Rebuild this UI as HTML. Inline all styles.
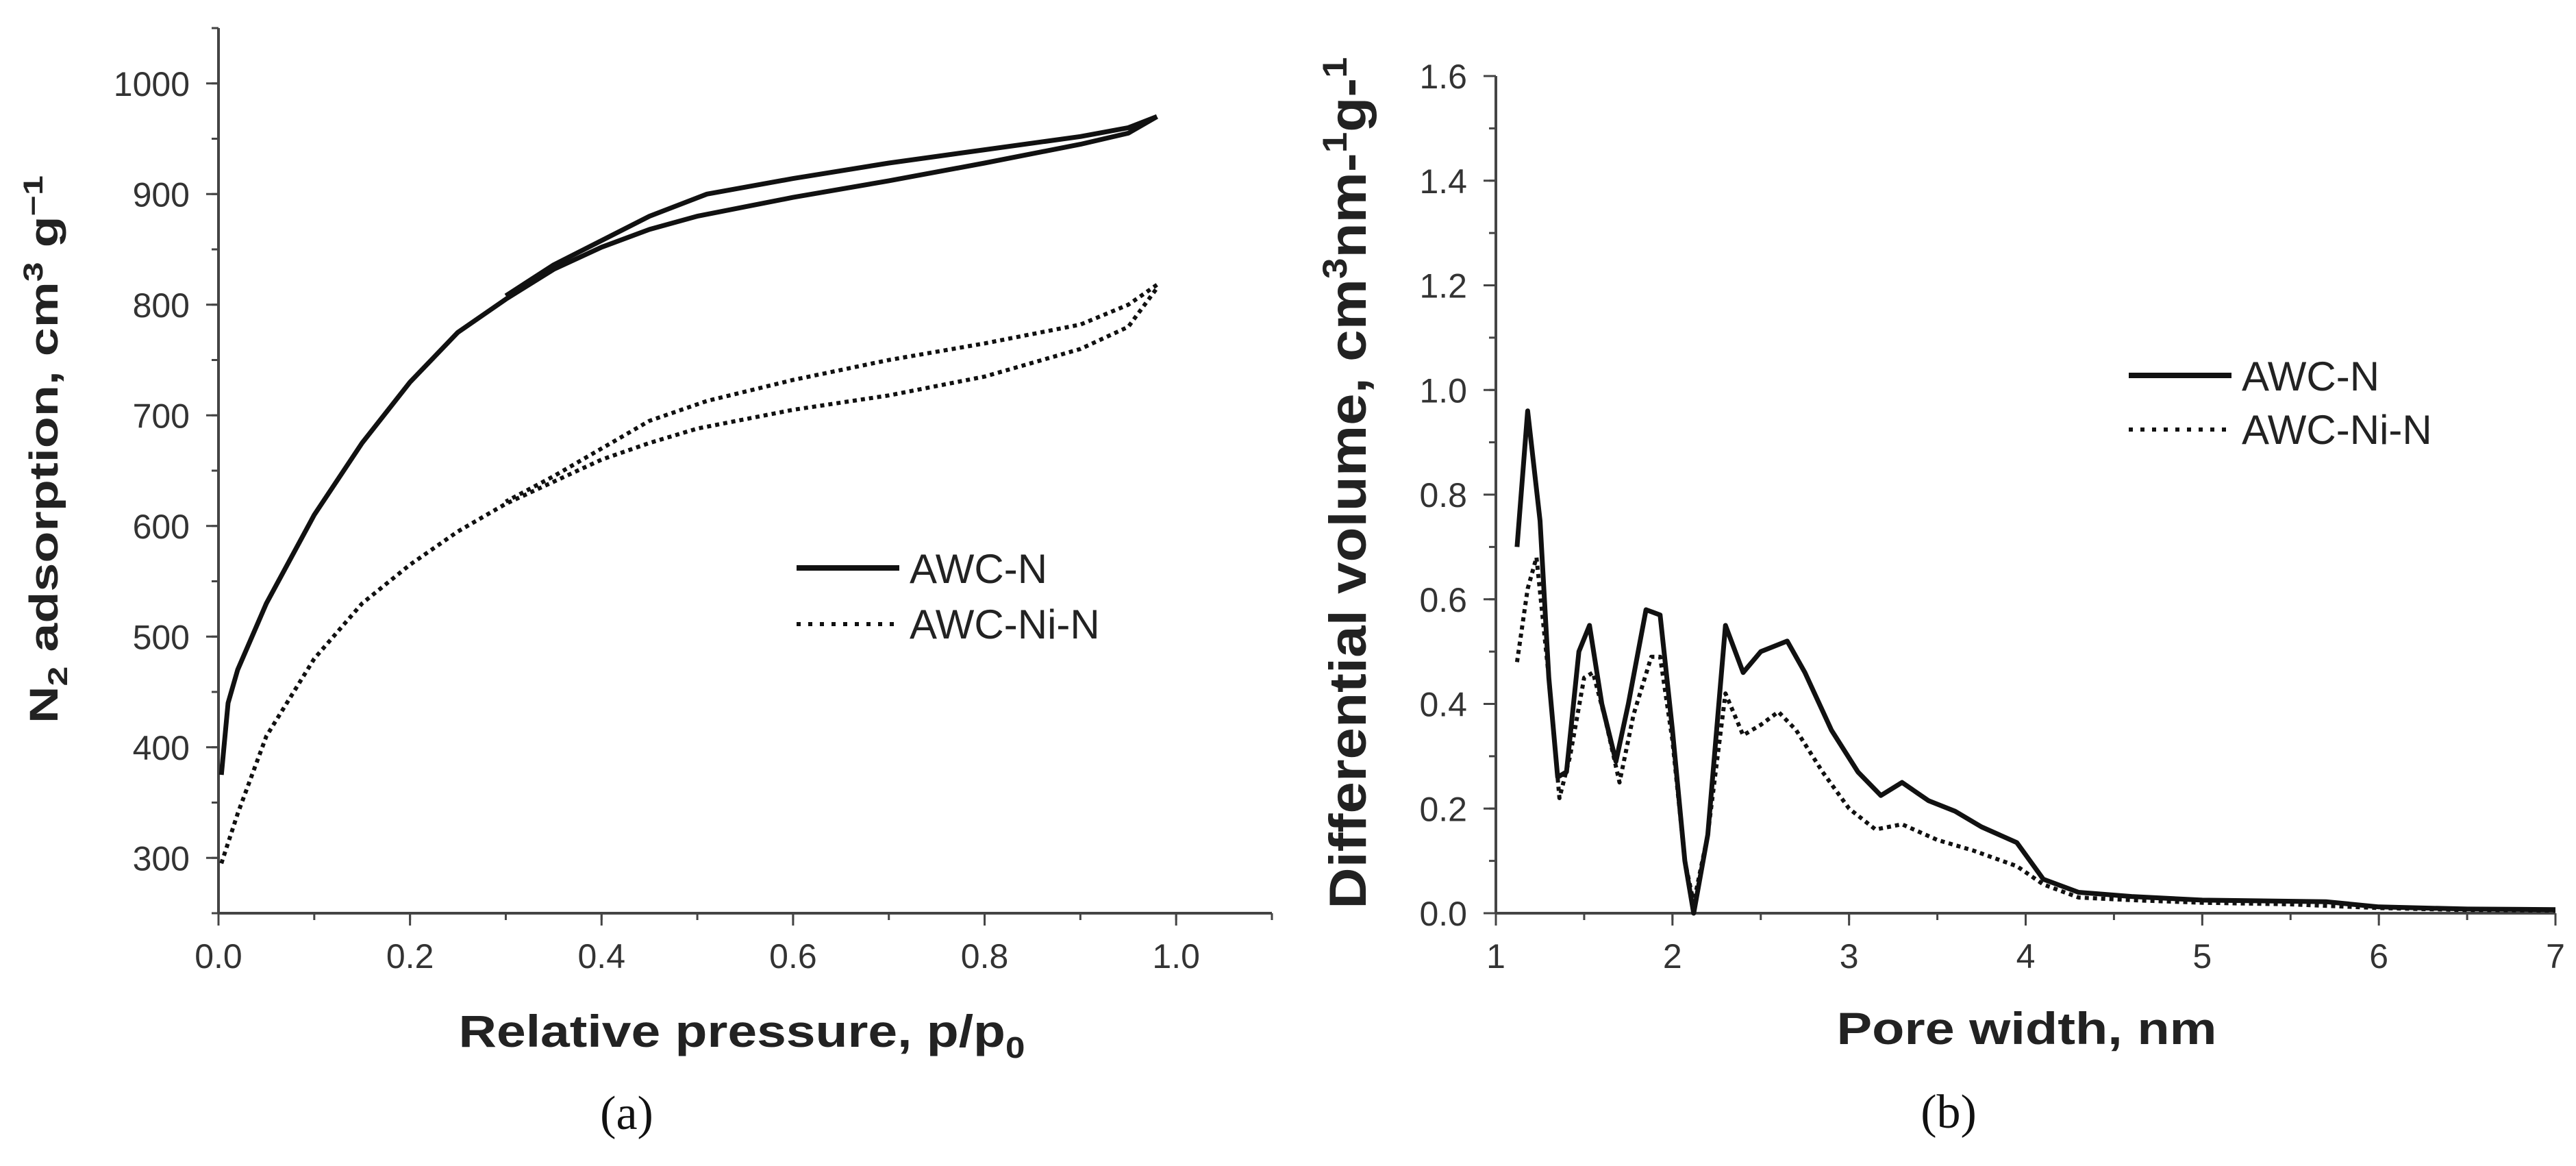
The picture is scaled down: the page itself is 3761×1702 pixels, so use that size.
<!DOCTYPE html>
<html><head><meta charset="utf-8"><style>
html,body{margin:0;padding:0;background:#fff}
svg{display:block}
</style></head><body>
<svg id="fig" width="3761" height="1702" viewBox="0 0 3761 1702" xmlns="http://www.w3.org/2000/svg" font-family="Liberation Sans, sans-serif">
<rect width="3761" height="1702" fill="#fff"/>
<g id="pa"></g>
<g id="pb"></g>
</svg>
<script>
// Panel (a) data
const aAdsX = [0.003,0.01,0.02,0.05,0.1,0.15,0.2,0.25,0.3,0.35,0.4,0.45,0.5,0.6,0.7,0.8,0.9,0.95,0.98];
const aAdsN = [375,440,470,530,610,675,730,775,805,832,852,868,880,897,912,928,945,955,970];
const aDesX = [0.98,0.95,0.9,0.8,0.7,0.6,0.51,0.45,0.4,0.35,0.3];
const aDesN = [970,960,952,940,928,914,900,880,858,836,808];
const aAdsNiX = [0.003,0.02,0.05,0.1,0.15,0.2,0.25,0.3,0.35,0.4,0.45,0.5,0.6,0.7,0.8,0.9,0.95,0.98];
const aAdsNi = [295,340,410,480,530,565,595,620,640,660,675,688,705,718,735,760,780,815];
const aDesNiX = [0.98,0.95,0.9,0.8,0.7,0.6,0.51,0.45,0.4,0.35,0.3];
const aDesNi = [818,800,782,765,750,732,713,695,670,645,622];
const aXTicks = [0,0.2,0.4,0.6,0.8,1.0];
const aXLabels = ["0.0","0.2","0.4","0.6","0.8","1.0"];
const aYTicks = [300,400,500,600,700,800,900,1000];
const aYLabels = ["300","400","500","600","700","800","900","1000"];
// Panel (b) data
const bX = [1.12,1.18,1.25,1.3,1.35,1.4,1.47,1.53,1.6,1.68,1.75,1.85,1.93,2.0,2.07,2.12,2.2,2.3,2.4,2.5,2.65,2.75,2.9,3.05,3.18,3.3,3.45,3.6,3.75,3.95,4.1,4.3,4.6,5.0,5.7,6.0,6.5,7.0];
const bN = [0.70,0.96,0.75,0.45,0.26,0.27,0.50,0.55,0.40,0.29,0.40,0.58,0.57,0.35,0.10,0.0,0.15,0.55,0.46,0.50,0.52,0.46,0.35,0.27,0.225,0.25,0.215,0.195,0.165,0.135,0.065,0.04,0.032,0.025,0.022,0.012,0.008,0.007];
const bNiX = [1.12,1.18,1.23,1.3,1.36,1.42,1.5,1.55,1.62,1.7,1.78,1.88,1.93,2.0,2.07,2.12,2.2,2.3,2.4,2.5,2.6,2.7,2.85,3.0,3.15,3.3,3.5,3.7,3.95,4.1,4.3,4.6,5.0,5.5,6.0,6.5,7.0];
const bNi = [0.48,0.62,0.68,0.45,0.22,0.30,0.45,0.46,0.37,0.25,0.38,0.49,0.49,0.33,0.10,0.02,0.15,0.42,0.34,0.36,0.385,0.35,0.27,0.20,0.16,0.17,0.14,0.12,0.09,0.055,0.03,0.025,0.02,0.017,0.01,0.006,0.005];
const bXTicks = [1,2,3,4,5,6,7];
const bXLabels = ["1","2","3","4","5","6","7"];
const bYTicks = [0,0.2,0.4,0.6,0.8,1.0,1.2,1.4,1.6];
const bYLabels = ["0.0","0.2","0.4","0.6","0.8","1.0","1.2","1.4","1.6"];

const NS="http://www.w3.org/2000/svg";
function mk(parent,tag,attrs,text){const e=document.createElementNS(NS,tag);for(const k in attrs)e.setAttribute(k,attrs[k]);if(text!==undefined)e.textContent=text;parent.appendChild(e);return e;}

const axA={x0:319,x1:1857,xmin:0,xmax:1.1,y0:1333,y1:41,ymin:250,ymax:1050};
const axB={x0:2184,x1:3731,xmin:1,xmax:7,y0:1333,y1:111,ymin:0,ymax:1.6};
function sx(ax,v){return ax.x0+(v-ax.xmin)/(ax.xmax-ax.xmin)*(ax.x1-ax.x0);}
function sy(ax,v){return ax.y0-(v-ax.ymin)/(ax.ymax-ax.ymin)*(ax.y0-ax.y1);}

function axes(g,ax,xt,xl,yt,yl,xminor,yminor,yTop){
  const a=mk(g,'line',{x1:ax.x0,y1:ax.y0,x2:ax.x1,y2:ax.y0,stroke:'#444','stroke-width':4});
  
  const b=mk(g,'line',{x1:ax.x0,y1:ax.y0,x2:ax.x0,y2:yTop,stroke:'#444','stroke-width':4});
  
  for(let v=ax.xmin;v<=ax.xmax+1e-9;v+=xminor){const X=sx(ax,v);const t=mk(g,'line',{x1:X,y1:ax.y0,x2:X,y2:ax.y0+10,stroke:'#444','stroke-width':3});}
  for(let v=ax.ymin;v<=ax.ymax+1e-9;v+=yminor){const Y=sy(ax,v);const t=mk(g,'line',{x1:ax.x0,y1:Y,x2:ax.x0-10,y2:Y,stroke:'#444','stroke-width':3});}
  xt.forEach((v,i)=>{const X=sx(ax,v);
    const t=mk(g,'line',{x1:X,y1:ax.y0,x2:X,y2:ax.y0+18,stroke:'#444','stroke-width':3});
    const l=mk(g,'text',{x:X,y:ax.y0+80,'text-anchor':'middle','font-size':50,fill:'#333'},xl[i]);});
  yt.forEach((v,i)=>{const Y=sy(ax,v);
    const t=mk(g,'line',{x1:ax.x0,y1:Y,x2:ax.x0-18,y2:Y,stroke:'#444','stroke-width':3});
    const l=mk(g,'text',{x:ax.x0-42,y:Y+18,'text-anchor':'end','font-size':50,fill:'#333'},yl[i]);});
}
function line(g,ax,xs,ys,dotted,name){
  const d=xs.map((x,i)=>(i?'L':'M')+sx(ax,x).toFixed(1)+' '+sy(ax,ys[i]).toFixed(1)).join(' ');
  const p=mk(g,'path',{d:d,fill:'none',stroke:'#111','stroke-width':dotted?6:7,'stroke-linejoin':'round','stroke-dasharray':dotted?'6 6':'none'});
  
}
function legend(g,x,y1,y2){
  const a=mk(g,'line',{x1:x,y1:y1,x2:x+150,y2:y1,stroke:'#111','stroke-width':8});
  const t=mk(g,'text',{x:x+165,y:y1+22,'font-size':60,fill:'#222'},'AWC-N');
  const b=mk(g,'line',{x1:x,y1:y2,x2:x+150,y2:y2,stroke:'#111','stroke-width':6,'stroke-dasharray':'6 11'});
  const u=mk(g,'text',{x:x+165,y:y2+21,'font-size':60,fill:'#222'},'AWC-Ni-N');
}

const ga=document.getElementById('pa');
axes(ga,axA,aXTicks,aXLabels,aYTicks,aYLabels,0.1,50,41);
line(ga,axA,aAdsX,aAdsN,false,'awc-n-adsorption');
line(ga,axA,aDesX,aDesN,false,'awc-n-desorption');
line(ga,axA,aAdsNiX,aAdsNi,true,'awc-ni-n-adsorption');
line(ga,axA,aDesNiX,aDesNi,true,'awc-ni-n-desorption');
legend(ga,1163,829,911);
let t=mk(ga,'text',{x:1083,y:1528,'text-anchor':'middle','font-size':66,'font-weight':'bold',fill:'#222',textLength:827,lengthAdjust:'spacingAndGlyphs'});

t.innerHTML='Relative pressure, p/p<tspan font-size="44" dy="16">0</tspan>';
t=mk(ga,'text',{x:0,y:0,'text-anchor':'middle','font-size':58,'font-weight':'bold',fill:'#222',transform:'translate(84,656) rotate(-90) scale(1.3,1)'});

t.innerHTML='N<tspan font-size="40" dy="14">2</tspan><tspan dy="-14"> adsorption, cm</tspan><tspan font-size="40" dy="-22">3</tspan><tspan dy="22"> g</tspan><tspan font-size="40" dy="-22">−1</tspan>';
t=mk(ga,'text',{x:915,y:1648,'text-anchor':'middle','font-size':70,fill:'#111','font-family':'Liberation Serif, serif'},'(a)');


const gb=document.getElementById('pb');
axes(gb,axB,bXTicks,bXLabels,bYTicks,bYLabels,0.5,0.1,111);
line(gb,axB,bX,bN,false,'awc-n-pore-distribution');
line(gb,axB,bNiX,bNi,true,'awc-ni-n-pore-distribution');
legend(gb,3108,548,627);
t=mk(gb,'text',{x:2959,y:1524,'text-anchor':'middle','font-size':66,'font-weight':'bold',fill:'#222',textLength:555,lengthAdjust:'spacingAndGlyphs'},'Pore width, nm');

t=mk(gb,'text',{x:0,y:0,'text-anchor':'middle','font-size':76,'font-weight':'bold',fill:'#222',transform:'translate(1994,705) rotate(-90) scale(1.1,1)'});

t.innerHTML='Differential volume, cm<tspan font-size="50" dy="-28">3</tspan><tspan dy="28">nm-</tspan><tspan font-size="50" dy="-28">1</tspan><tspan dy="28">g-</tspan><tspan font-size="50" dy="-28">1</tspan>';
t=mk(gb,'text',{x:2845,y:1646,'text-anchor':'middle','font-size':70,fill:'#111','font-family':'Liberation Serif, serif'},'(b)');

</script>
</body></html>
